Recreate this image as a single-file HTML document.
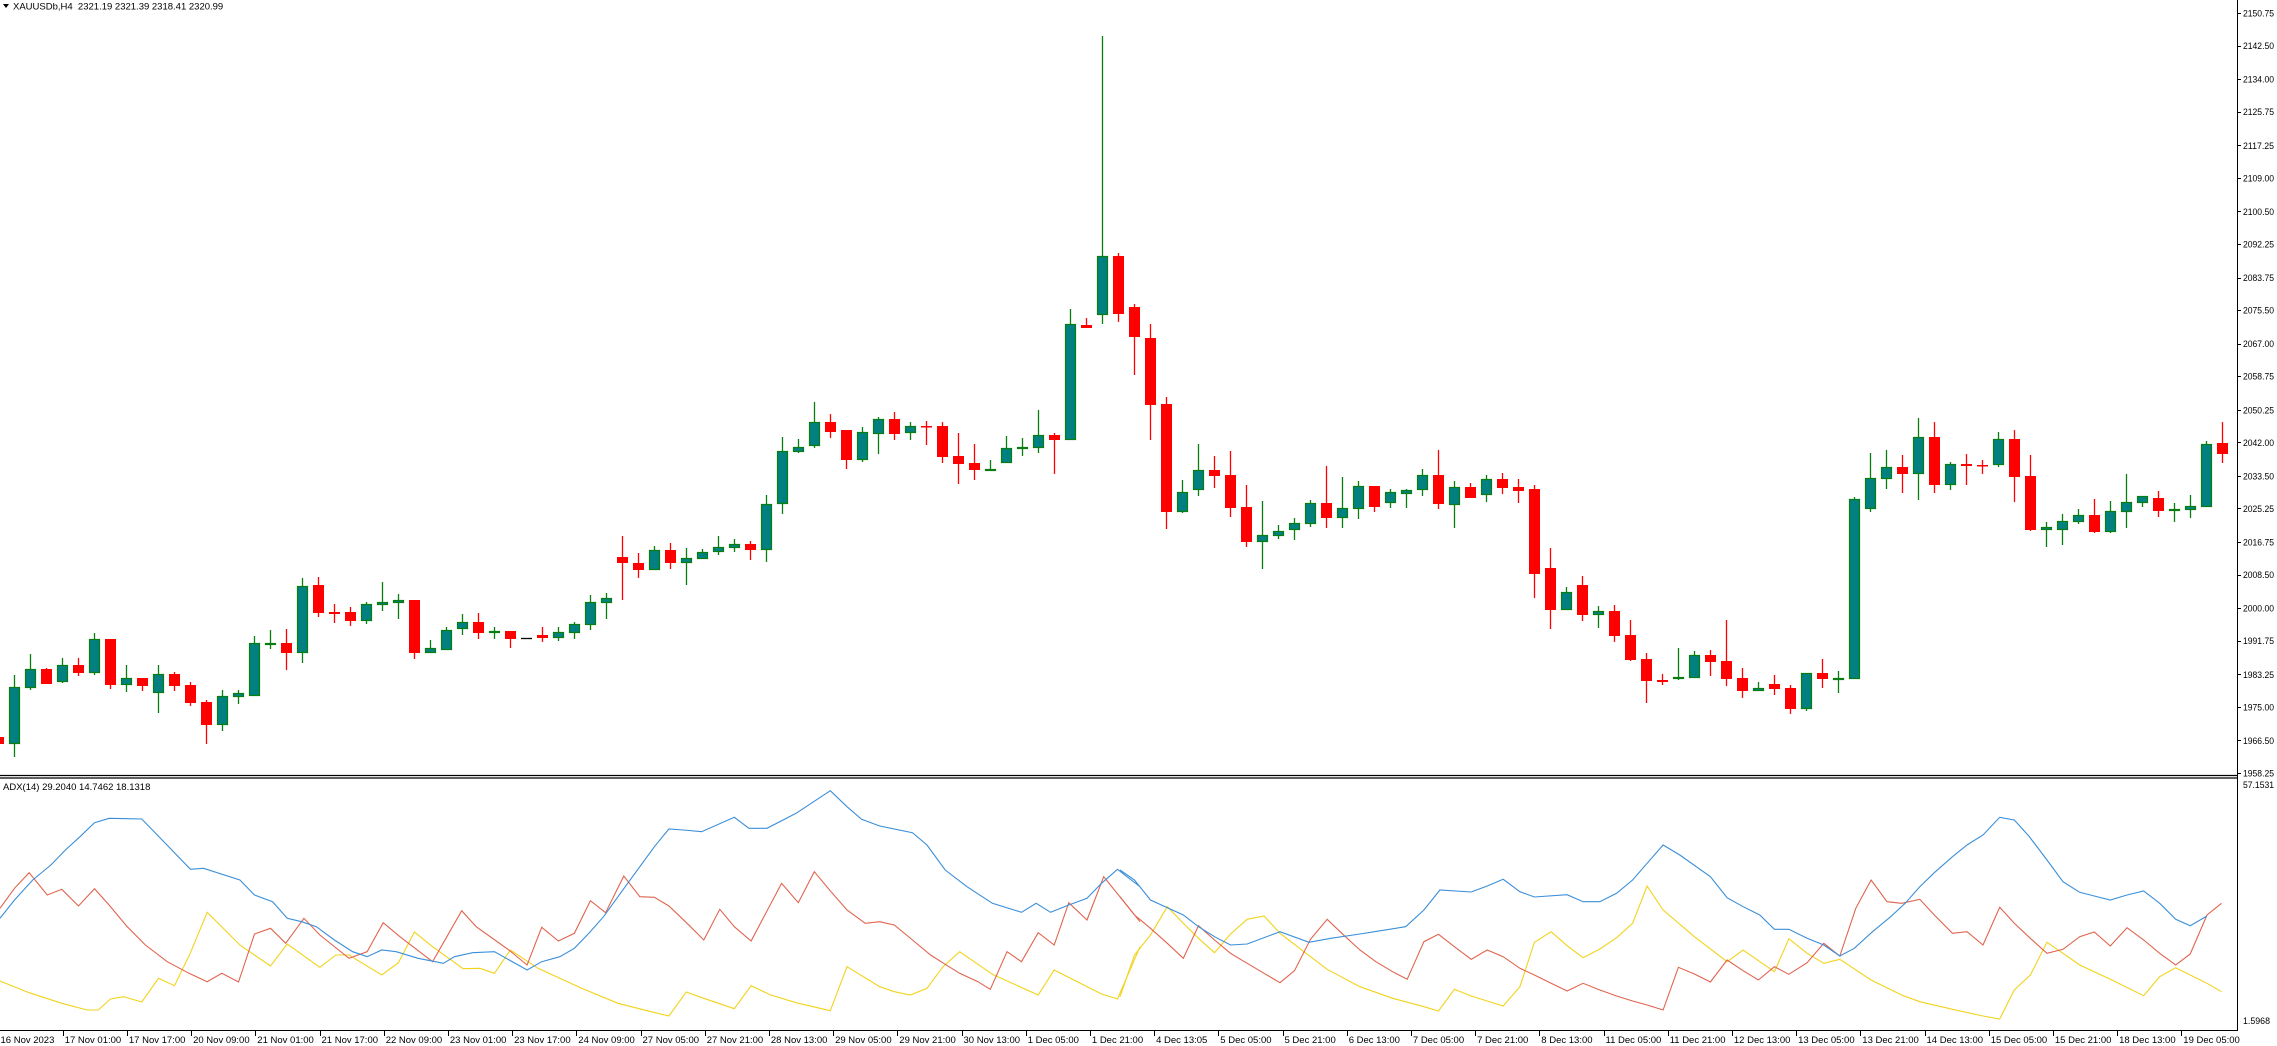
<!DOCTYPE html>
<html><head><meta charset="utf-8">
<style>
html,body{margin:0;padding:0;background:#fff;}
svg{display:block;}
text{font-family:"Liberation Sans","DejaVu Sans",sans-serif;}
</style></head>
<body>
<svg id="s" width="2277" height="1046" xmlns="http://www.w3.org/2000/svg"></svg>
<script>
var S=document.getElementById('s');var out=[];
function L(x1,y1,x2,y2,c,w){out.push('<line x1="'+x1+'" y1="'+y1+'" x2="'+x2+'" y2="'+y2+'" stroke="'+c+'" stroke-width="'+(w||1)+'"/>');}
function T(x,y,t,sz,tl){out.push('<text x="'+x+'" y="'+y+'" font-size="'+sz+'" fill="#000"'+(tl?' textLength="'+tl+'" lengthAdjust="spacingAndGlyphs"':'')+'>'+t+'</text>');}
var C=[
[737,744,735,748,'r'],[687,744,675,757,'g'],[669,688,654,690,'g'],[669,684,668,684,'r'],[665,682,658,683,'g'],
[665,673,658,676,'r'],[639,673,633,675,'g'],[639,685,639,689,'r'],[678,685,665,692,'g'],[678,686,678,691,'r'],
[674,693,665,713,'g'],[674,686,672,691,'r'],[685,703,682,706,'r'],[702,725,700,744,'r'],[696,725,690,731,'g'],
[693,697,690,704,'g'],[643,696,636,696,'g'],[643,645,630,649,'g'],[643,653,629,670,'r'],[586,653,578,663,'g'],
[585,613,577,617,'r'],[612,614,604,623,'r'],[612,621,607,626,'r'],[604,621,602,624,'g'],[602,605,582,611,'g'],
[600,603,594,619,'g'],[600,653,600,659,'r'],[648,653,640,653,'g'],[630,650,627,650,'g'],[622,629,614,635,'g'],
[622,633,613,639,'r'],[631,633,627,639,'g'],[631,639,631,648,'r'],[638,638,638,638,'k'],[635,638,627,642,'r'],
[632,638,627,641,'g'],[624,633,622,639,'g'],[602,625,595,630,'g'],[598,603,593,619,'g'],[557,563,536,600,'r'],
[563,570,553,578,'r'],[550,570,546,570,'g'],[550,563,543,569,'r'],[558,563,548,585,'g'],[552,559,549,559,'g'],
[547,552,536,555,'g'],[544,548,539,552,'g'],[544,550,541,560,'r'],[504,550,495,562,'g'],[451,504,437,514,'g'],
[447,452,439,453,'g'],[422,446,402,448,'g'],[422,432,414,438,'r'],[430,460,430,469,'r'],[432,460,427,462,'g'],
[419,434,417,454,'g'],[419,434,412,440,'r'],[426,433,422,440,'g'],[426,427,421,445,'r'],[426,457,422,463,'r'],
[456,464,433,484,'r'],[463,470,444,480,'r'],[469,470,460,470,'g'],[448,463,436,463,'g'],[447,449,438,456,'g'],
[435,448,410,453,'g'],[435,440,433,474,'r'],[324,440,309,440,'g'],[325,328,318,328,'r'],[256,315,36,324,'g'],
[256,314,253,322,'r'],[307,337,304,375,'r'],[338,405,324,440,'r'],[404,512,397,529,'r'],[492,512,480,513,'g'],
[470,490,444,496,'g'],[470,476,456,488,'r'],[475,508,451,517,'r'],[507,542,485,547,'r'],[535,542,501,569,'g'],
[531,536,525,539,'g'],[523,530,518,540,'g'],[503,524,500,527,'g'],[503,518,466,528,'r'],[508,518,477,528,'g'],
[486,509,481,519,'g'],[486,507,486,512,'r'],[492,503,489,508,'g'],[490,494,489,508,'g'],[475,490,469,496,'g'],
[475,504,450,509,'r'],[487,505,481,528,'g'],[487,498,483,498,'r'],[479,495,475,502,'g'],[479,488,473,494,'r'],
[487,491,479,503,'r'],[489,574,485,598,'r'],[568,610,548,629,'r'],[592,610,587,610,'g'],[585,615,576,621,'r'],
[611,615,606,628,'g'],[611,636,605,642,'r'],[635,660,620,661,'r'],[659,681,653,703,'r'],[680,682,674,685,'r'],
[677,679,648,680,'g'],[655,678,651,678,'g'],[655,662,650,676,'r'],[661,679,620,686,'r'],[678,691,668,698,'r'],
[688,691,682,691,'g'],[684,689,675,695,'r'],[688,709,685,714,'r'],[673,709,673,711,'g'],[673,679,659,688,'r'],
[678,679,671,693,'g'],[499,679,497,679,'g'],[478,509,453,512,'g'],[467,479,450,489,'g'],[467,474,455,493,'r'],
[437,474,418,500,'g'],[437,485,422,493,'r'],[464,485,462,490,'g'],[464,466,454,485,'r'],[465,466,460,474,'r'],
[439,465,432,467,'g'],[439,477,430,502,'r'],[476,530,455,531,'r'],[527,530,522,547,'g'],[521,530,514,545,'g'],
[515,522,509,524,'g'],[515,532,499,533,'r'],[511,532,501,533,'g'],[502,512,474,528,'g'],[496,503,496,507,'g'],
[498,511,491,517,'r'],[509,511,503,522,'g'],[506,510,495,518,'g'],[444,507,441,507,'g'],[443,454,422,463,'r']
];
for(var i=0;i<C.length;i++){
 var c=C[i],cx=16*i-2,wc=c[4]=='r'?'#ff0000':(c[4]=='k'?'#000':'#0a7d12');
 L(cx+0.5,c[2],cx+0.5,c[3],wc,1.3);
 var h=Math.max(c[1]-c[0],1.5);
 if(c[4]=='r') out.push('<rect x="'+(cx-5)+'" y="'+c[0]+'" width="11" height="'+h+'" fill="#ff0000"/>');
 else if(c[4]=='k') L(cx-5,c[0]+0.5,cx+6,c[0]+0.5,'#000',1.3);
 else out.push('<rect x="'+(cx-4.5)+'" y="'+(c[0]+0.5)+'" width="10" height="'+Math.max(h-1,1)+'" fill="#008080" stroke="#0a7d12" stroke-width="1.2"/>');
}
function P(pts,off,col){var s='';for(var i=0;i<pts.length;i+=2){s+=(off+pts[i]/1.3754).toFixed(1)+','+(780+pts[i+1]/3).toFixed(1)+' ';}
 out.push('<polyline points="'+s+'" fill="none" stroke="'+col+'" stroke-width="1.1"/>');}
var B1=[0,415,20,360,45,300,70,255,90,210,110,170,130,128,150,115,195,117,262,268,280,265,330,300,350,345,375,365,395,415,415,425,435,440,460,480,485,515,505,530,525,510,545,515,575,535,610,550,625,530,650,518,680,515,725,570,745,545,770,530,790,505,810,460,830,410,850,350,870,290,900,200,920,147,940,150,965,155,1010,112,1030,145,1055,145,1095,100,1142,32,1165,80,1185,118,1210,138,1255,158,1275,195,1300,270,1330,320,1365,370,1405,397,1425,370,1445,397,1470,375,1495,355,1515,310,1537,268,1568,320];
var R1=[0,385,20,325,40,278,65,345,85,328,108,378,130,326,150,375,175,440,200,495,230,545,260,580,285,605,305,580,328,606,350,462,372,445,393,490,418,415,440,465,480,535,505,515,527,428,550,470,595,545,635,392,655,440,700,510,725,555,745,442,768,483,790,460,812,362,833,398,858,288,880,350,900,352,920,378,945,430,968,480,990,388,1010,440,1033,483,1075,310,1098,368,1120,275,1143,335,1165,390,1190,430,1210,425,1230,435,1255,480,1280,525,1300,553,1320,580,1345,605,1362,628,1385,515,1405,545,1428,458,1450,495,1470,368,1495,420,1518,290,1568,425];
var Y1=[0,603,40,638,85,670,120,690,135,690,152,657,170,650,195,666,218,595,240,617,262,518,285,397,330,495,372,558,395,492,440,562,462,525,480,525,525,585,548,548,570,456,595,500,637,566,660,565,680,580,702,510,740,565,800,625,850,670,890,692,920,708,944,636,968,655,1010,686,1033,617,1060,645,1095,668,1142,692,1165,560,1210,620,1230,635,1252,645,1275,625,1297,560,1320,515,1365,583,1428,645,1450,570,1515,642,1537,657,1568,500];
var B2=[0,270,20,300,42,360,87,405,108,440,130,470,152,495,175,492,220,455,260,487,290,475,330,462,350,455,393,440,418,390,440,330,483,336,505,318,527,298,550,335,570,351,615,344,637,365,660,365,683,340,705,300,725,250,747,195,770,225,812,290,835,353,857,380,880,405,900,448,920,448,945,475,968,495,990,528,1010,505,1035,455,1060,410,1080,370,1100,320,1120,278,1145,230,1165,195,1187,165,1210,112,1230,120,1250,168,1275,240,1297,305,1320,337,1340,348,1362,360,1385,345,1408,333,1430,370,1452,418,1472,437,1495,408];
var R2=[0,350,20,405,42,445,65,490,87,535,108,437,130,480,152,520,175,550,198,580,220,608,240,572,262,478,285,418,305,460,330,510,352,545,375,575,395,598,418,485,438,463,460,500,483,538,505,510,527,530,550,565,570,585,593,610,615,633,637,610,660,630,683,648,705,663,725,675,747,690,768,562,790,582,812,606,835,540,857,572,878,600,900,560,920,583,945,548,968,490,990,528,1012,385,1033,300,1055,365,1075,370,1100,358,1120,405,1145,460,1165,455,1187,495,1210,382,1230,430,1252,475,1275,520,1297,508,1320,470,1340,456,1362,498,1385,443,1408,480,1430,520,1452,555,1472,522,1495,405,1515,370];
var Y2=[0,650,20,525,42,465,65,380,87,430,108,475,130,518,152,462,175,418,198,408,220,460,262,530,285,568,330,620,375,655,418,680,438,693,460,628,483,648,527,678,550,620,570,487,593,455,615,497,637,533,660,507,683,473,705,430,725,318,747,390,790,470,835,545,857,510,900,575,920,476,945,520,968,550,990,538,1033,600,1075,645,1100,665,1145,688,1187,708,1210,717,1230,630,1252,585,1275,487,1297,520,1320,555,1362,598,1408,647,1430,590,1452,563,1495,610,1515,635];
P(Y1,0,'#f2d31b');P(Y2,1120,'#f2d31b');
P(R1,0,'#e0644e');P(R2,1120,'#e0644e');
P(B1,0,'#3b8fd9');P(B2,1120,'#3b8fd9');
L(2237.5,0,2237.5,1031,'#000',1);
L(0,775.5,2238,775.5,'#000',1.2);L(0,778,2238,778,'#000',1.2);
L(0,1030.5,2238,1030.5,'#000',1);
var pv=['2150.75','2142.50','2134.00','2125.75','2117.25','2109.00','2100.50','2092.25','2083.75','2075.50','2067.00','2058.75','2050.25','2042.00','2033.50','2025.25','2016.75','2008.50','2000.00','1991.75','1983.25','1975.00','1966.50','1958.25'];
for(var k=0;k<pv.length;k++){var y=13+(2150.75-parseFloat(pv[k]))*3.948;L(2237,Math.round(y)+0.5,2241,Math.round(y)+0.5,'#000',1);T(2243,y+3.5,pv[k],9.5,31);}
T(2243,788,'57.1531',9.5,31);T(2243,1024,'1.5968',9.5,27);
var tl=['16 Nov 2023','17 Nov 01:00','17 Nov 17:00','20 Nov 09:00','21 Nov 01:00','21 Nov 17:00','22 Nov 09:00','23 Nov 01:00','23 Nov 17:00','24 Nov 09:00','27 Nov 05:00','27 Nov 21:00','28 Nov 13:00','29 Nov 05:00','29 Nov 21:00','30 Nov 13:00','1 Dec 05:00','1 Dec 21:00','4 Dec 13:05','5 Dec 05:00','5 Dec 21:00','6 Dec 13:00','7 Dec 05:00','7 Dec 21:00','8 Dec 13:00','11 Dec 05:00','11 Dec 21:00','12 Dec 13:00','13 Dec 05:00','13 Dec 21:00','14 Dec 13:00','15 Dec 05:00','15 Dec 21:00','18 Dec 13:00','19 Dec 05:00'];
for(var k=0;k<tl.length;k++){var x=64.2*k-1.5;L(Math.round(x)+0.5,1030,Math.round(x)+0.5,1036,'#000',1);T(x+2,1043,tl[k],9.5);}
out.push('<polygon points="3,4 9,4 6,8" fill="#000"/>');
T(13,9.5,'XAUUSDb,H4&#160; 2321.19 2321.39 2318.41 2320.99',9.5);
T(3,790,'ADX(14) 29.2040 14.7462 18.1318',9.5);
S.innerHTML=out.join('');
</script>
</body></html>
